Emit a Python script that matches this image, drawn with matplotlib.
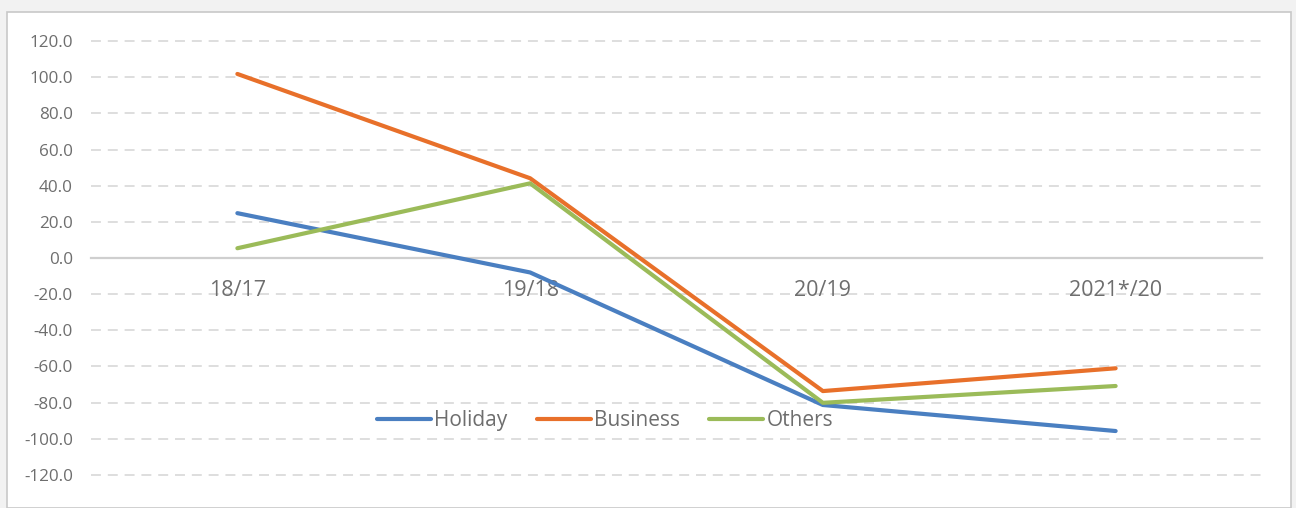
import matplotlib.pyplot as plt
from matplotlib.patches import Rectangle

categories = ["18/17", "19/18", "20/19", "2021*/20"]
holiday = [24.8, -8.0, -81.3, -95.7]
business = [101.8, 44.1, -73.6, -61.0]
others = [5.4, 41.3, -80.1, -70.8]

yticks = list(range(-120, 121, 20))

plt.rcParams['font.family'] = ['Open Sans', 'DejaVu Sans']

W, H = 1296, 508
fig = plt.figure(figsize=(W / 100, H / 100), dpi=100, facecolor="#f2f2f2")

# chart box, behind the axes
fig.patches.append(Rectangle((7 / W, 0), 1284 / W, 496 / H, transform=fig.transFigure,
                             facecolor="white", edgecolor="#c8c8c8", linewidth=1.2, zorder=-10))

# axes: x from 91 to 1262 px, y 125 -> -125
top_px, bot_px = 32, 484
ax = fig.add_axes([91 / W, 1 - bot_px / H, (1262 - 91) / W, (bot_px - top_px) / H])
ax.set_facecolor("none")
ax.set_zorder(5)

x = range(len(categories))
ax.plot(x, holiday, color="#4a7fc1", lw=3.0, solid_capstyle="round", label="Holiday", zorder=3)
ax.plot(x, business, color="#e8702a", lw=3.0, solid_capstyle="round", label="Business", zorder=3)
ax.plot(x, others, color="#9bbb59", lw=3.0, solid_capstyle="round", label="Others", zorder=3)

ax.set_xlim(-0.5, 3.5)
ax.set_ylim(-125, 125)
ax.set_yticks(yticks)
ax.set_yticklabels([f"{v:.1f}" for v in yticks], fontsize=12.3, color="#6e6e6e")
for v in yticks:
    if v != 0:
        ax.axhline(v, color="#d4d4d4", lw=1.1, dashes=(6.5, 4.5), zorder=1)

for s in ["top", "right", "left"]:
    ax.spines[s].set_visible(False)
ax.spines["bottom"].set_position(("data", 0))
ax.spines["bottom"].set_color("#cfcfcf")
ax.spines["bottom"].set_linewidth(1.6)
ax.spines["bottom"].set_zorder(2)

ax.set_xticks(list(x))
ax.set_xticklabels(categories, fontsize=15.5, color="#6e6e6e")
ax.tick_params(axis="x", length=0, pad=16)
ax.tick_params(axis="y", length=0, pad=13)

leg = ax.legend(loc="center", bbox_to_anchor=(0.439, 0.14), ncol=3, frameon=False,
                fontsize=15, handlelength=2.6, handletextpad=0.15, columnspacing=1.4,
                labelcolor="#6e6e6e")

fig.savefig("out.png", dpi=100, facecolor=fig.get_facecolor())
